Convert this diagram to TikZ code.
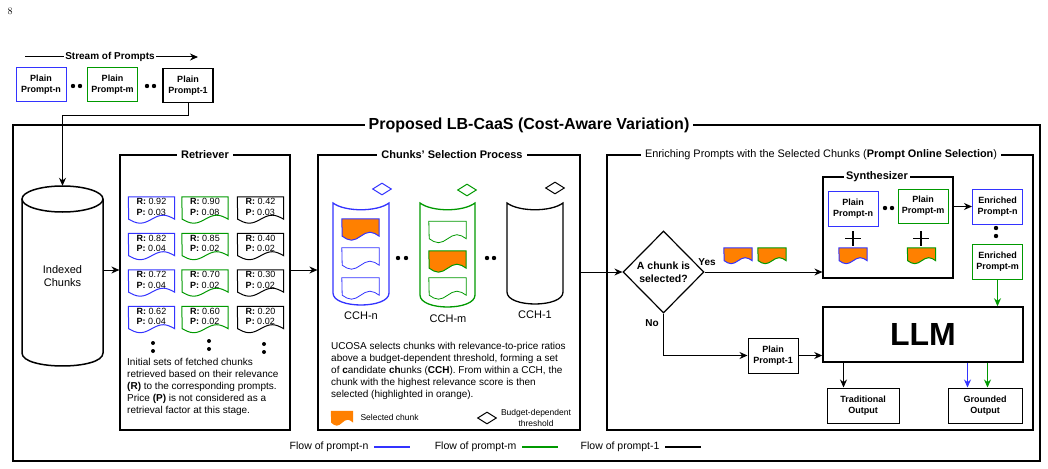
\documentclass[tikz,border=0pt]{standalone}
\usepackage{fontspec}
\setsansfont{Liberation Sans}
\usetikzlibrary{positioning,arrows.meta,shapes.geometric,calc}

\definecolor{flown}{HTML}{3333FF}
\definecolor{flowm}{HTML}{009900}
\definecolor{selorange}{HTML}{FF8000}

% chunk outline with a wavy bottom, drawn round a named node
\newcommand\docshape[4][]{%
  \draw[#1] (#2.north west) -- (#2.north east)
    -- ([yshift={-0.5*#4pt}]#2.south east)
    sin ++(-#3pt,#4pt) cos ++(-#3pt,-#4pt)
    sin ++(-#3pt,-#4pt) cos ++(-#3pt,#4pt) -- cycle;}

\begin{document}
\begin{tikzpicture}[x=1pt, y=-1pt,
    every node/.style={font=\sffamily},
    prompt/.style={draw, line width=1pt, align=center, inner sep=1pt,
                   minimum width=50pt, minimum height=34pt,
                   font=\sffamily\bfseries\fontsize{9}{11}\selectfont},
    panel/.style={draw, line width=1.2pt, inner sep=0},
    ttl/.style={fill=white, inner xsep=4pt, inner ysep=1pt,
                font=\sffamily\bfseries\fontsize{11}{13}\selectfont},
    chunk/.style={inner sep=0, minimum width=46pt, minimum height=20pt,
                  align=left, font=\sffamily\fontsize{9}{10.5}\selectfont},
    slot/.style={inner sep=0, minimum width=37pt, minimum height=15pt},
    mini/.style={inner sep=0, minimum width=28pt, minimum height=11pt},
    thr/.style={diamond, draw, line width=1pt, inner sep=0,
                minimum width=19pt, minimum height=12pt},
    note/.style={align=left, inner sep=0, font=\sffamily\fontsize{10}{12}\selectfont},
    lbl/.style={font=\sffamily\fontsize{11}{13}\selectfont},
    legend/.style={font=\sffamily\fontsize{10.5}{12}\selectfont},
    arr/.style={-{Stealth[length=8pt, width=7pt]}, line width=1pt},
    wall/.style={line width=1.3pt}
  ]
  \useasboundingbox (0,0) rectangle (1048,468);

  % page number and the stream of prompts
  \node[font=\rmfamily\fontsize{10}{12}\selectfont] (pagenum) at (10,11) {8};
  \coordinate (streamstart) at (25,57);
  \coordinate (streamend) at (198,57);
  \draw[arr] (streamstart) -- (streamend);
  \node[fill=white, inner sep=1pt, font=\sffamily\bfseries\fontsize{10}{12}\selectfont]
    (stream) at (110,57) {Stream of Prompts};
  \node[prompt, draw=flown] (topn) at (41,85) {Plain\\Prompt-n};
  \node[prompt, draw=flowm] (topm) at (112.5,85) {Plain\\Prompt-m};
  \node[prompt, line width=1.4pt] (topone) at (188,85.5) {Plain\\Prompt-1};
  \foreach \x in {73,80,147,154} \fill (\x,86) circle (2.2pt);

  % outer frame
  \draw[line width=1.4pt] (13,125) rectangle (1040,461);
  \node[ttl, font=\sffamily\bfseries\fontsize{16}{18}\selectfont] (lbcaas) at (529,125)
    {Proposed LB-CaaS (Cost-Aware Variation)};

  % indexed chunks
  \node[lbl, align=center, minimum width=81pt, minimum height=180pt, inner sep=0]
    (idx) at (62.5,276) {Indexed\\Chunks};
  \draw[wall, line width=1.5pt] (62.5,199) ellipse [x radius=40.5pt, y radius=13pt];
  \draw[wall, line width=1.5pt] (22,199) -- (22,353)
    .. controls (22,370.3) and (103,370.3) .. (103,353) -- (103,199);
  \draw[arr] (topone.south) -- ++(0,12) -| (idx.north);

  % panels
  \node[panel, minimum width=170pt, minimum height=275pt] (ret) at (205,292.5) {};
  \node[ttl] (rettitle) at (ret.north) {Retriever};
  \node[panel, minimum width=262pt, minimum height=275pt] (cch) at (449,292.5) {};
  \node[ttl] (cchtitle) at (452,155) {Chunks' Selection Process};
  \node[panel, minimum width=426pt, minimum height=275pt] (enr) at (820,292.5) {};
  \node[ttl, font=\sffamily\fontsize{10.9}{13}\selectfont] (enrtitle) at (821,155)
    {Enriching Prompts with the Selected Chunks (\textbf{Prompt Online Selection})};

  \path ([yshift=6pt]idx.east) coordinate (idxout);
  \draw[arr] (idxout) -- (idxout -| ret.west);
  \draw[arr] (idxout -| ret.east) -- (idxout -| cch.west);

  % retrieved chunks
  \foreach \r/\p [count=\i] in {0.92/0.03,0.82/0.04,0.72/0.04,0.62/0.04} {
    \node[chunk] (rn\i) at (151.5,{170.5+36.5*\i}) {\textbf{R:} \r\\\textbf{P:} \p};
    \docshape[flown, line width=1pt]{rn\i}{11.5}{4}
  }
  \foreach \r/\p [count=\i] in {0.90/0.08,0.85/0.02,0.70/0.02,0.60/0.02} {
    \node[chunk] (rm\i) at (205,{170.5+36.5*\i}) {\textbf{R:} \r\\\textbf{P:} \p};
    \docshape[flowm, line width=1pt]{rm\i}{11.5}{4}
  }
  \foreach \r/\p [count=\i] in {0.42/0.03,0.40/0.02,0.30/0.02,0.20/0.02} {
    \node[chunk] (ro\i) at (260.5,{170.5+36.5*\i}) {\textbf{R:} \r\\\textbf{P:} \p};
    \docshape[line width=1pt]{ro\i}{11.5}{4}
  }
  \foreach \x/\y in {153/343,209/341,264/344} {
    \fill (\x,\y) circle (2pt);
    \fill (\x,{\y+8}) circle (2pt);
  }
  \node[note, anchor=north west] (retnote) at (127,358)
    {Initial sets of fetched chunks\\retrieved based on their relevance\\
     \textbf{(R)} to the corresponding prompts.\\Price \textbf{(P)} is not considered as a\\
     retrieval factor at this stage.};

  % candidate chunk holders
  \draw[flown, wall] (333,203) .. controls (345,212) and (377,212) .. (389,203)
    -- (389,293) .. controls (389,309) and (333,309) .. (333,293) -- cycle;
  \draw[flowm, wall] (420,203) .. controls (432,212) and (463,212) .. (475,203)
    -- (475,295) .. controls (475,311) and (420,311) .. (420,295) -- cycle;
  \draw[wall] (507,203) .. controls (519,212) and (551,212) .. (563,203)
    -- (563,292) .. controls (563,308) and (507,308) .. (507,292) -- cycle;
  \foreach \y [count=\i] in {226.5,255.5,285.5} {
    \node[slot] (sn\i) at (360.5,\y) {};
  }
  \foreach \y [count=\i] in {229,258.5,285.5} {
    \node[slot] (sm\i) at (447.5,\y) {};
  }
  \docshape[draw=flown, fill=selorange, line width=1pt]{sn1}{9.25}{4}
  \docshape[flown, fill=white, line width=0.8pt]{sn2}{9.25}{4}
  \docshape[flown, fill=white, line width=0.8pt]{sn3}{9.25}{4}
  \docshape[flowm, fill=white, line width=0.8pt]{sm1}{9.25}{4}
  \docshape[draw=flowm, fill=selorange, line width=1pt]{sm2}{9.25}{4}
  \docshape[flowm, fill=white, line width=0.8pt]{sm3}{9.25}{4}
  \node[thr, draw=flown] (thn) at (382,189) {};
  \node[thr, draw=flowm] (thm) at (467,190) {};
  \node[thr] (tho) at (555,188) {};
  \foreach \x in {398,406,487,494} \fill (\x,258) circle (2.2pt);
  \node[lbl] (cchn) at (361,316) {CCH-n};
  \node[lbl] (cchm) at (448,319) {CCH-m};
  \node[lbl] (cchone) at (535,315) {CCH-1};
  \node[note, anchor=north west] (cchnote) at (331,342)
    {UCOSA selects chunks with relevance-to-price ratios\\
     above a budget-dependent threshold, forming a set\\
     of \textbf{c}andidate \textbf{ch}unks (\textbf{CCH}). From within a CCH, the\\
     chunk with the highest relevance score is then\\
     selected (highlighted in orange).};
  \node[mini, minimum width=22pt, minimum height=10pt] (legchunk) at (342,416) {};
  \docshape[draw=none, fill=selorange]{legchunk}{5.5}{3}
  \node[anchor=west, font=\sffamily\fontsize{8.5}{10}\selectfont] (legsel) at (357,417)
    {Selected chunk};
  \node[thr] (legthr) at (487,418) {};
  \node[align=center, font=\sffamily\fontsize{8.5}{11}\selectfont] (legbud) at (536,418)
    {Budget-dependent\\threshold};

  % decision and synthesizer
  \node[diamond, draw, line width=1.2pt, minimum width=81pt, minimum height=82pt,
        inner sep=0, align=center, font=\sffamily\bfseries\fontsize{10.5}{13}\selectfont]
    (dec) at (663.5,272) {A chunk is\\selected?};
  \draw[arr] (cch.east |- dec.west) -- (dec.west);
  \node[panel, minimum width=130pt, minimum height=101pt] (syn) at (888,227.5) {};
  \node[ttl, inner xsep=2pt] (syntitle) at (877,177) {Synthesizer};
  \draw[arr] (dec.east) -- (dec.east -| syn.west);
  \node[font=\sffamily\bfseries\fontsize{10}{12}\selectfont] (yes) at (707,262) {Yes};
  \node[mini] (yn) at (738,253.5) {};
  \node[mini] (ym) at (772,253.5) {};
  \docshape[draw=flown, fill=selorange, line width=1pt]{yn}{7}{3}
  \docshape[draw=flowm, fill=selorange, line width=1pt]{ym}{7}{3}

  \node[prompt, draw=flown, minimum height=35pt] (spn) at (853,208.5) {Plain\\Prompt-n};
  \node[prompt, draw=flowm] (spm) at (923,206) {Plain\\Prompt-m};
  \foreach \x in {885,892} \fill (\x,208) circle (2.2pt);
  \draw[line width=1.3pt] (845,238.5) -- (861,238.5) (853,231) -- (853,246);
  \draw[line width=1.3pt] (913,238.5) -- (929,238.5) (921,231) -- (921,246);
  \node[mini] (sdn) at (853,253.5) {};
  \node[mini] (sdm) at (921.5,253.5) {};
  \docshape[draw=flown, fill=selorange, line width=1pt]{sdn}{7}{3}
  \docshape[draw=flowm, fill=selorange, line width=1pt]{sdm}{7}{3}

  \node[prompt, draw=flown, minimum height=35pt] (enn) at (997.5,206.5) {Enriched\\Prompt-n};
  \node[prompt, draw=flowm, minimum height=35pt] (enm) at (997.5,261.5) {Enriched\\Prompt-m};
  \draw[arr] (syn.east |- enn.west) -- (enn.west);
  \foreach \y in {228,236} \fill (996,\y) circle (2.2pt);

  % LLM and outputs
  \node[draw, line width=1.5pt, minimum width=200pt, minimum height=55pt,
        font=\sffamily\bfseries\fontsize{32}{36}\selectfont] (llm) at (923,334.5) {LLM};
  \draw[arr, flowm] (enm.south) -- (enm.south |- llm.north);
  \node[font=\sffamily\bfseries\fontsize{10}{12}\selectfont] (no) at (652,323) {No};
  \node[prompt, minimum height=35pt] (plainone) at (773,355.5) {Plain\\Prompt-1};
  \draw[arr] (dec.south) |- (plainone.west);
  \draw[arr] (plainone.east) -- (plainone.east -| llm.west);
  \node[prompt, minimum width=72pt, minimum height=35pt] (trad) at (863,405.5) {Traditional\\Output};
  \node[prompt, minimum width=74pt, minimum height=35pt] (grnd) at (985,405.5) {Grounded\\Output};
  \coordinate (tradin) at ($(trad.north west)+(17,0)$);
  \coordinate (grndn) at ($(grnd.north west)+(20,0)$);
  \coordinate (grndm) at ($(grnd.north west)+(40,0)$);
  \draw[arr] (tradin |- llm.south) -- (tradin);
  \draw[arr, flown] (grndn |- llm.south) -- (grndn);
  \draw[arr, flowm] (grndm |- llm.south) -- (grndm);

  % flow legend
  \node[legend, anchor=east] (lgn) at (372,447) {Flow of prompt-n};
  \node[legend, anchor=east] (lgm) at (520,447) {Flow of prompt-m};
  \node[legend, anchor=east] (lgone) at (663,447) {Flow of prompt-1};
  \draw[flown, line width=1.3pt] ([xshift=2pt]lgn.east) -- ([xshift=38pt]lgn.east);
  \draw[flowm, line width=1.3pt] ([xshift=2pt]lgm.east) -- ([xshift=38pt]lgm.east);
  \draw[line width=1.3pt] ([xshift=2pt]lgone.east) -- ([xshift=38pt]lgone.east);
\end{tikzpicture}
\end{document}
